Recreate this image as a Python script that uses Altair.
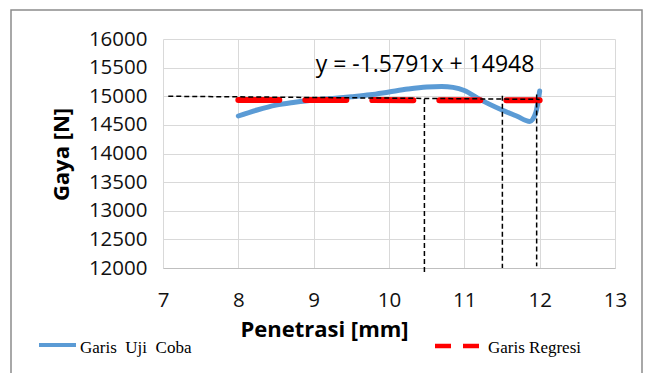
import altair as alt
import pandas as pd

# ---- data ----
x_uji = [8.0, 8.25, 8.5, 8.75, 9.0, 9.25, 9.5, 9.75, 10.0, 10.25, 10.5, 10.7,
         10.85, 11.0, 11.2, 11.5, 11.7, 11.87, 11.95, 12.0]
y_uji = [14655, 14760, 14845, 14895, 14935, 14960, 14990, 15025, 15075, 15125,
         15162, 15172, 15155, 15100, 14950, 14760, 14650, 14560, 14720, 15090]

x_reg = [8, 12]
y_reg = [14935, 14929]

# dashed guide lines
h_x = [7.07]
h_x2 = [12.0]
h_y = [15000]
h_y2 = [14945]
v_x = [10.47, 11.505, 11.96]
v_top = [14950, 15010, 15030]
v_bottom = [11913, 12000, 12030]

equation = "y = -1.5791x + 14948"
x_title = "Penetrasi [mm]"
y_title = "Gaya [N]"
legend_uji = "Garis\u00a0 Uji\u00a0 Coba"
legend_reg = "Garis Regresi"

y_ticks = list(range(12000, 16001, 500))
x_ticks = [7 + 0.5 * i for i in range(13)]

SANS = "Open Sans"
SERIF = "Liberation Serif"

df_uji = pd.DataFrame({"x": x_uji, "y": y_uji})
df_reg = pd.DataFrame({"x": x_reg, "y": y_reg})
df_h = pd.DataFrame({"x": h_x, "x2": h_x2, "y": h_y, "y2": h_y2})
df_v = pd.DataFrame({"x": v_x, "y": v_top, "y2": v_bottom})

xscale = alt.Scale(domain=[7, 13], nice=False, zero=False)
yscale = alt.Scale(domain=[12000, 16000], nice=False, zero=False)

xaxis = alt.Axis(values=x_ticks, format="d",
                 labelExpr="datum.value % 1 === 0 ? datum.label : ''",
                 grid=True, gridColor="#d9d9d9", gridWidth=1,
                 domain=True, domainColor="#bfbfbf", domainWidth=1,
                 ticks=False, tickSize=0, labelPadding=22, labelFlush=False,
                 labelOverlap=False, labelFont=SANS, labelFontSize=20.5,
                 labelColor="#111111",
                 title=x_title, titleFont=SANS, titleFontSize=22, titleFontWeight="bold",
                 titleColor="#000000", titleX=161, titleY=68, titleBaseline="alphabetic",
                 titleAlign="center")
yaxis = alt.Axis(values=y_ticks, format="d",
                 grid=True, gridColor="#d9d9d9", gridWidth=1,
                 domain=False, ticks=False, tickSize=0, labelPadding=16,
                 labelFlush=False, labelOverlap=False,
                 labelFont=SANS, labelFontSize=20.5, labelColor="#111111",
                 title=y_title, titleFont=SANS, titleFontSize=22, titleFontWeight="bold",
                 titleColor="#000000", titleX=-95, titleY=115, titleAngle=-90,
                 titleBaseline="alphabetic", titleAlign="center")

X = alt.X("x:Q", scale=xscale, axis=xaxis)
Y = alt.Y("y:Q", scale=yscale, axis=yaxis)

uji = alt.Chart(df_uji).mark_line(color="#5B9BD5", strokeWidth=5, interpolate="monotone",
                                  strokeCap="round").encode(x=X, y=Y)

reg = alt.Chart(df_reg).mark_line(color="#FF0000", strokeWidth=6, strokeDash=[41, 26],
                                  strokeCap="round").encode(x=X, y=Y)

hline = alt.Chart(df_h).mark_rule(color="#000000", strokeWidth=1.5, strokeDash=[5, 3]).encode(
    x=X, x2="x2:Q", y=Y, y2="y2:Q")
vline = alt.Chart(df_v).mark_rule(color="#000000", strokeWidth=1.5, strokeDash=[5, 3]).encode(
    x=X, y=Y, y2="y2:Q")

eq = alt.Chart(pd.DataFrame({"t": [equation]})).mark_text(
    font=SANS, fontSize=23, color="#000000", align="center", baseline="alphabetic"
).encode(x=alt.value(262), y=alt.value(33), text="t:N")

frame = alt.Chart(pd.DataFrame({"a": [0]})).mark_rect(
    filled=False, stroke="#8c8c8c", strokeWidth=1.5
).encode(x=alt.value(-152), x2=alt.value(479), y=alt.value(-29), y2=alt.value(420))

leg_uji_line = alt.Chart(pd.DataFrame({"a": [0]})).mark_rule(
    color="#5B9BD5", strokeWidth=4).encode(x=alt.value(-124), x2=alt.value(-87), y=alt.value(306))
leg_uji_text = alt.Chart(pd.DataFrame({"t": [legend_uji]})).mark_text(
    font=SERIF, fontSize=17, color="#000000", align="left", baseline="alphabetic"
).encode(x=alt.value(-83), y=alt.value(314), text="t:N")

leg_reg_line = alt.Chart(pd.DataFrame({"a": [0]})).mark_rule(
    color="#FF0000", strokeWidth=4.5, strokeDash=[16, 12]).encode(
    x=alt.value(272), x2=alt.value(316), y=alt.value(307))
leg_reg_text = alt.Chart(pd.DataFrame({"t": [legend_reg]})).mark_text(
    font=SERIF, fontSize=17, color="#000000", align="left", baseline="alphabetic"
).encode(x=alt.value(325), y=alt.value(314), text="t:N")

chart = alt.layer(
    uji, reg, hline, vline, eq, frame, leg_uji_line, leg_uji_text, leg_reg_line, leg_reg_text
).properties(
    width=452, height=229,
    autosize=alt.AutoSizeParams(type="none"),
    padding={"left": 155, "top": 31, "right": 28, "bottom": 105},
    background="white",
).configure_view(stroke=None)

chart.save("out.html", embed_options={"renderer": "svg", "actions": False})
